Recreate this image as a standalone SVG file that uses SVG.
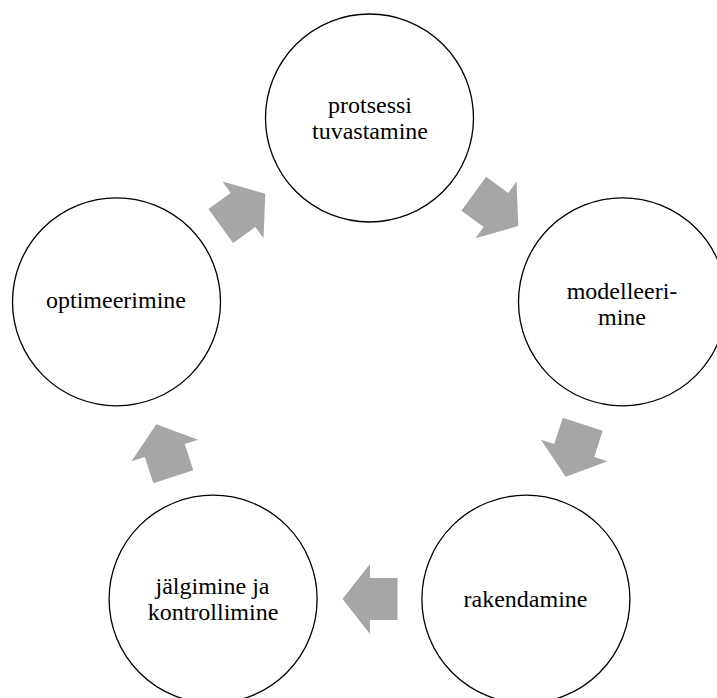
<svg xmlns="http://www.w3.org/2000/svg" xmlns:xlink="http://www.w3.org/1999/xlink" width="717" height="698" viewBox="0 0 717 698">
<style>
.node circle{fill:#fff;stroke:#000;stroke-width:1.3}
.node text{font-family:'Liberation Serif','Times New Roman',serif;font-size:24px;fill:#000;text-anchor:middle}
.arrow{fill:#a6a6a6}
</style>
<defs>
<polygon id="arr" points="-27.5,-21 0,-21 0,-35 27.5,0 0,35 0,21 -27.5,21"/>
</defs>
<rect width="717" height="698" fill="#fff"/>
<g id="connectors">
<use xlink:href="#arr" class="arrow" transform="translate(496,209.9) rotate(36)"/>
<use xlink:href="#arr" class="arrow" transform="translate(574.2,450.5) rotate(108)"/>
<use xlink:href="#arr" class="arrow" transform="translate(370,599) rotate(180)"/>
<use xlink:href="#arr" class="arrow" transform="translate(164.8,450.5) rotate(-108)"/>
<use xlink:href="#arr" class="arrow" transform="translate(243,209.9) rotate(-36)"/>
</g>
<g id="node-protsessi" class="node">
<circle cx="369.5" cy="118" r="104"/>
<text x="370" y="113">protsessi</text>
<text x="370" y="139">tuvastamine</text>
</g>
<g id="node-modelleerimine" class="node">
<circle cx="622.5" cy="301.8" r="104"/>
<text x="622" y="299">modelleeri-</text>
<text x="622" y="324.5">mine</text>
</g>
<g id="node-rakendamine" class="node">
<circle cx="525.9" cy="599.2" r="104"/>
<text x="525.5" y="606.5">rakendamine</text>
</g>
<g id="node-jalgimine" class="node">
<circle cx="213.1" cy="599.2" r="104"/>
<text x="212.5" y="594">jälgimine ja</text>
<text x="213" y="620">kontrollimine</text>
</g>
<g id="node-optimeerimine" class="node">
<circle cx="116.5" cy="301.8" r="104"/>
<text x="116" y="308">optimeerimine</text>
</g>
</svg>
